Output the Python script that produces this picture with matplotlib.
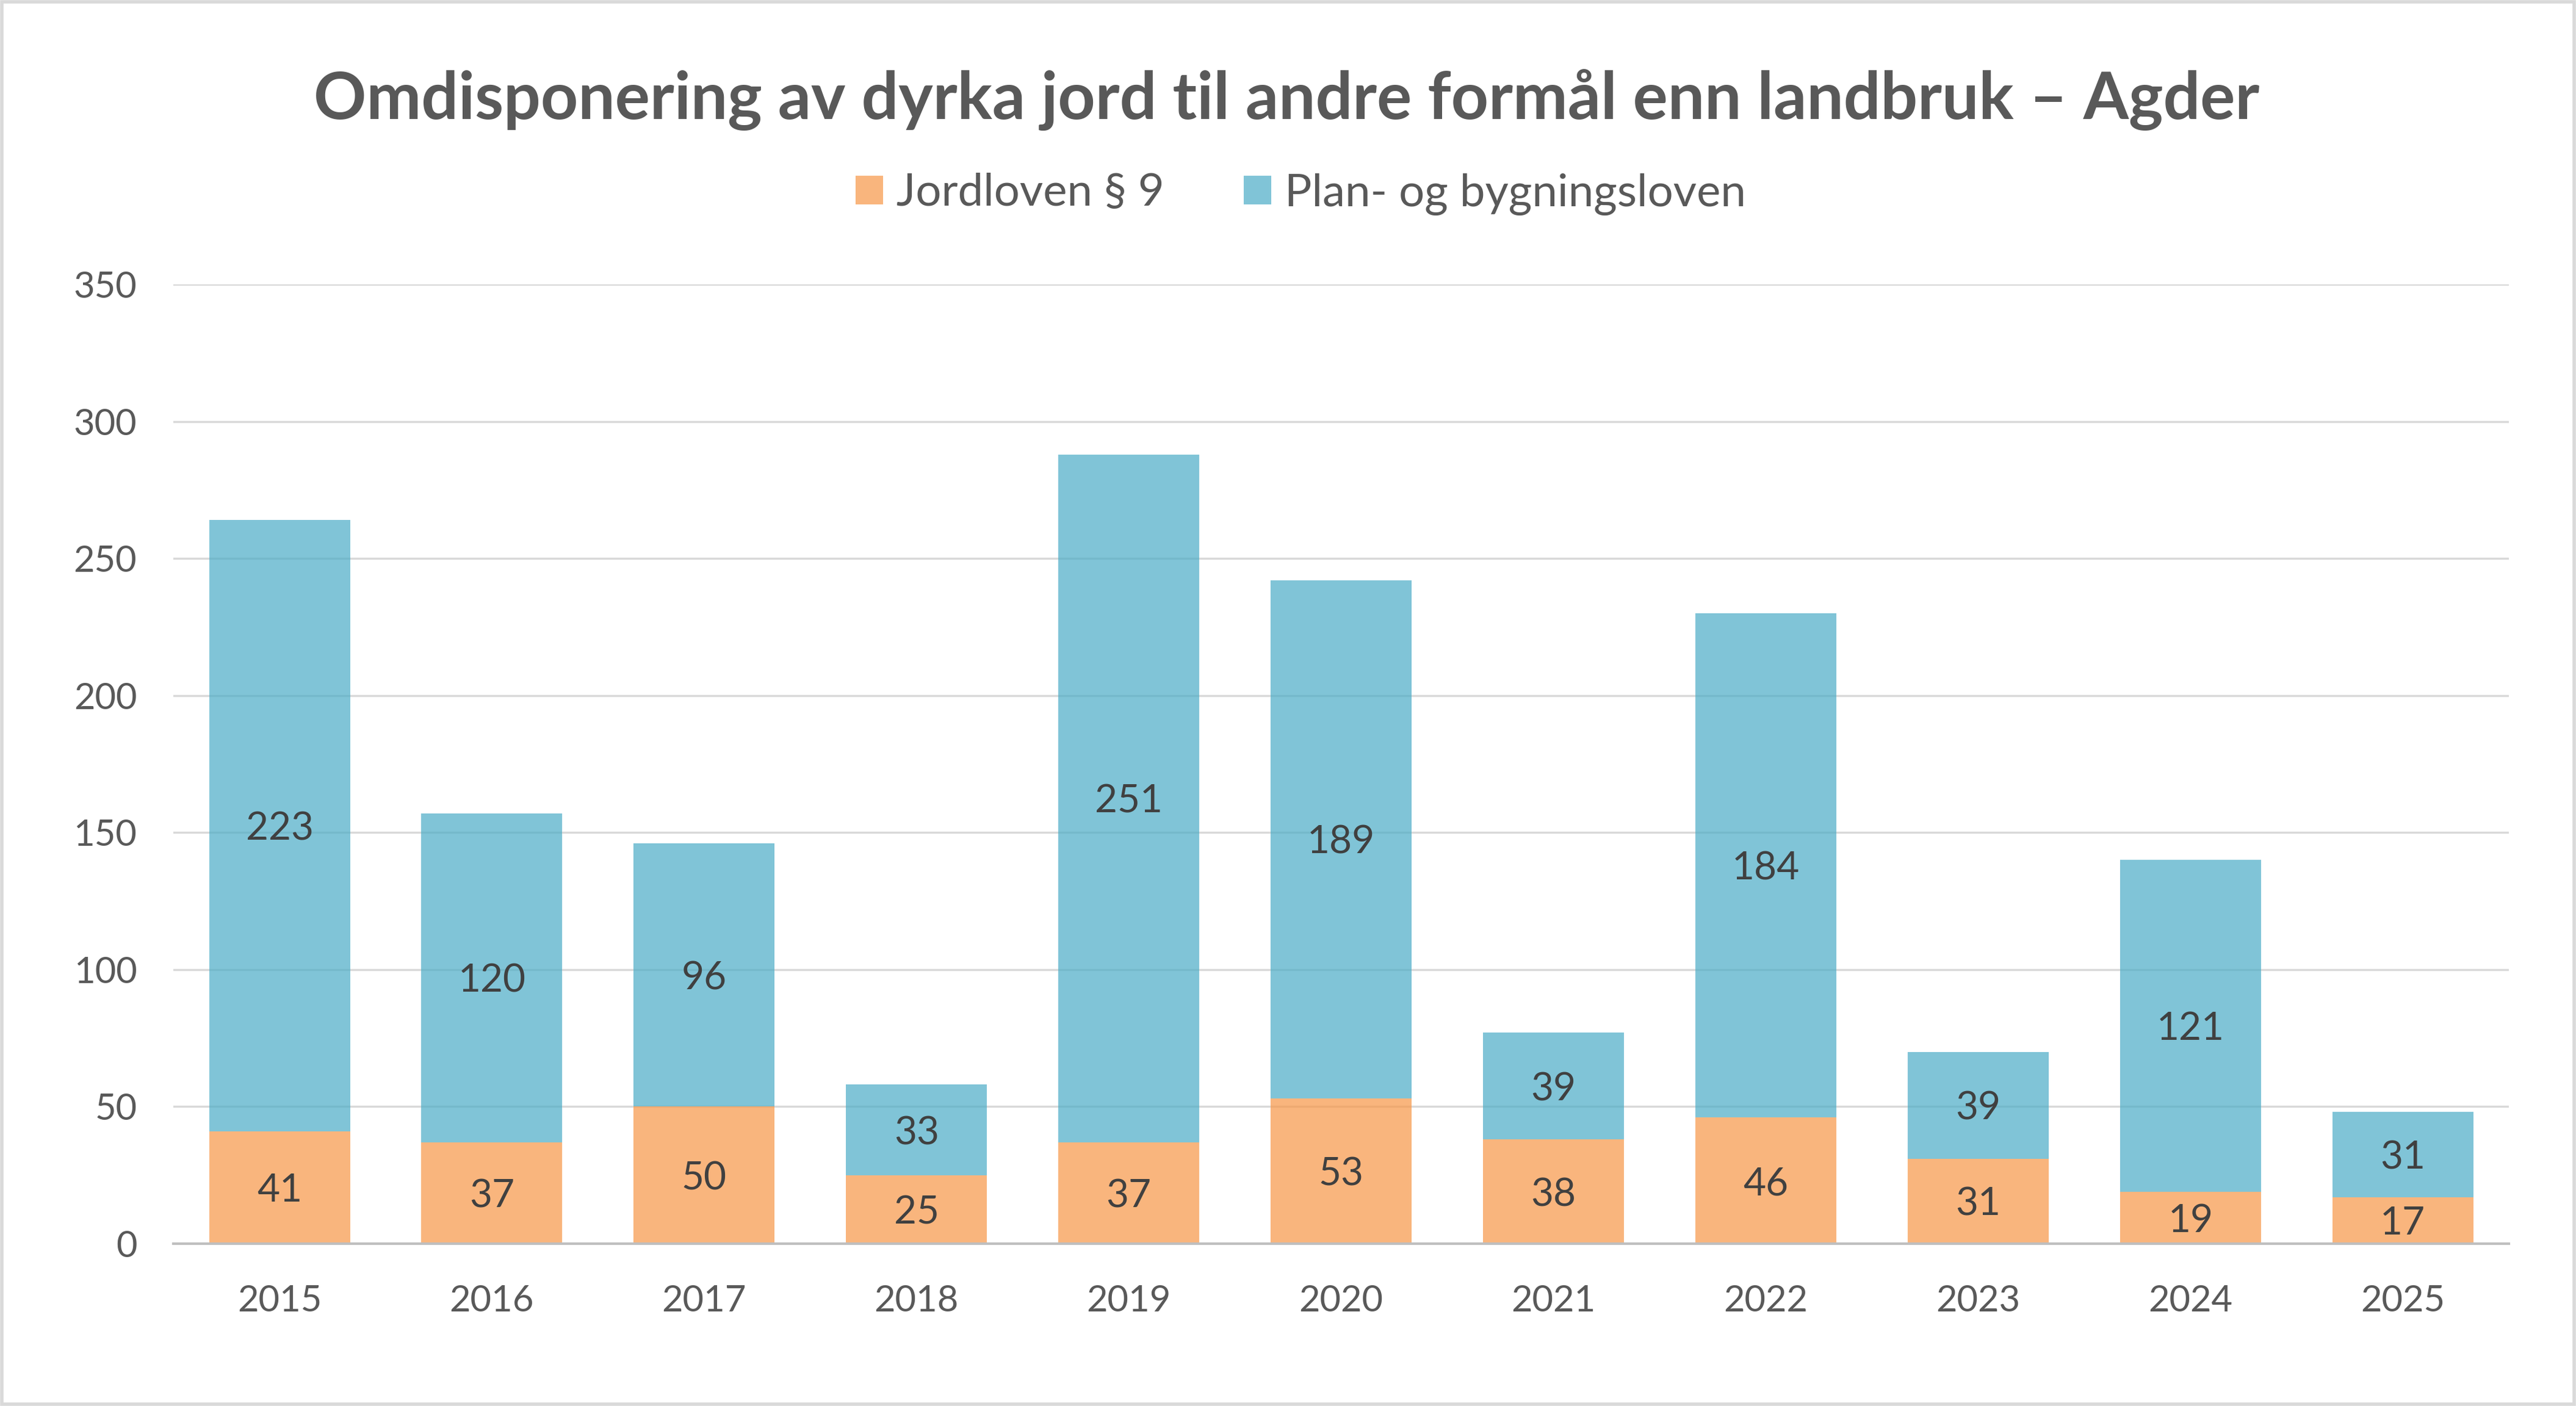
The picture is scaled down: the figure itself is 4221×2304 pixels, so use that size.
import matplotlib
matplotlib.use("Agg")
import matplotlib.pyplot as plt
from matplotlib.patches import Rectangle
import numpy as np

years = ["2015", "2016", "2017", "2018", "2019", "2020", "2021", "2022", "2023", "2024", "2025"]
jordloven = [41, 37, 50, 25, 37, 53, 38, 46, 31, 19, 17]
plan_bygning = [223, 120, 96, 33, 251, 189, 39, 184, 39, 121, 31]
series_names = ["Jordloven § 9", "Plan- og bygningsloven"]
title = "Omdisponering av dyrka jord til andre formål enn landbruk – Agder"
yticks = [0, 50, 100, 150, 200, 250, 300, 350]

plt.rcParams['font.family'] = ['Lato', 'DejaVu Sans']

fig = plt.figure(figsize=(42.21, 23.04), dpi=100)
ax = fig.add_axes([0.0673, 0.1155, 0.9067, 0.6822])

x = np.arange(len(years))
w = 0.664
orange = "#F79646"
blue = "#4BACC6"
b1 = ax.bar(x, jordloven, width=w, color=orange, alpha=0.7, zorder=3, label=series_names[0])
b2 = ax.bar(x, plan_bygning, width=w, bottom=jordloven, color=blue, alpha=0.7, zorder=3, label=series_names[1])

for i in range(len(years)):
    ax.text(x[i], jordloven[i] / 2, str(jordloven[i]), ha="center", va="center_baseline",
            fontsize=46, color="#404040", zorder=5)
    ax.text(x[i], jordloven[i] + plan_bygning[i] / 2, str(plan_bygning[i]), ha="center",
            va="center_baseline", fontsize=46, color="#404040", zorder=5)

ax.set_xlim(-0.5, len(years) - 0.5)
ax.set_ylim(0, 350)
ax.set_yticks(yticks)
ax.set_xticks(x)
ax.set_xticklabels(years)
ax.tick_params(axis="both", length=0, labelsize=43, labelcolor="#595959")
ax.tick_params(axis="y", pad=43)
ax.tick_params(axis="x", pad=48)
ax.grid(axis="y", color="#D9D9D9", linewidth=2.5, zorder=1)
ax.set_axisbelow(True)
for s in ["top", "right", "left"]:
    ax.spines[s].set_visible(False)
ax.spines["bottom"].set_color("#BFBFBF")
ax.spines["bottom"].set_linewidth(3)
ax.spines["bottom"].set_zorder(4)

fig.text(0.4995, 0.929, title, ha="center", va="center", fontsize=77, fontweight="bold", color="#595959")

leg = fig.legend(handles=[b1, b2], labels=series_names, loc="center", bbox_to_anchor=(0.505, 0.862),
                 ncol=2, frameon=False, fontsize=53.5, labelcolor="#595959",
                 handlelength=0.6, handleheight=0.6, handletextpad=0.3, columnspacing=1.75)

fig.patches.append(Rectangle((0.0008, 0.0012), 0.9984, 0.9976, transform=fig.transFigure,
                             fill=False, edgecolor="#D9D9D9", linewidth=4))

fig.savefig("out.png", dpi=100, facecolor="white")
